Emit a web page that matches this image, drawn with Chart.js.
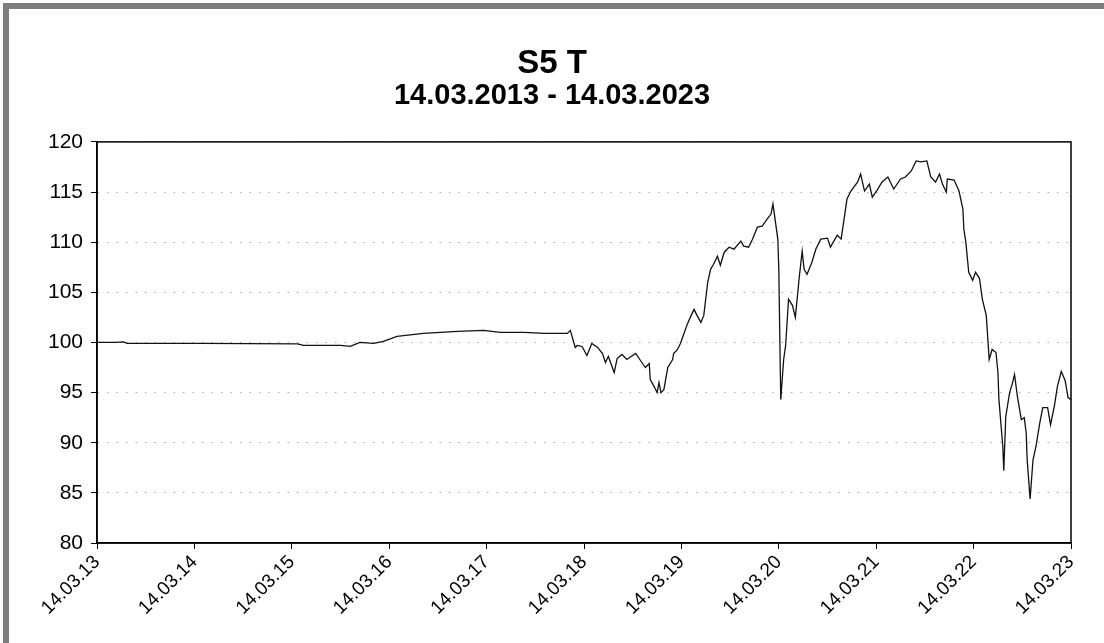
<!DOCTYPE html>
<html>
<head>
<meta charset="utf-8">
<title>S5 T</title>
<script src="https://cdn.jsdelivr.net/npm/chart.js@4.4.0/dist/chart.umd.min.js"></script>
<style>
    body { margin: 0; background: #fff; }
    #wrap { position: relative; width: 1104px; height: 643px; }
    #frame { position: absolute; left: 3px; top: 3px; right: 0; bottom: 0;
             border-left: 6px solid #7d7d7d; border-top: 6px solid #7d7d7d; pointer-events: none; }
</style>
</head>
<body>
<div id="wrap">
    <canvas id="chart" width="1104" height="643"></canvas>
    <div id="frame"></div>
</div>
<script>
// Chart data (x = years since 14.03.2013)
const chartTitle = "S5 T";
const chartPeriod = "14.03.2013 - 14.03.2023";
const startYear = 13;
const yearTicks = [0, 1, 2, 3, 4, 5, 6, 7, 8, 9, 10];

const years = [
    0.00, 0.19, 0.27, 0.31, 1.06, 2.06, 2.12, 2.50, 2.60, 2.70,
    2.84, 2.94, 3.08, 3.35, 3.70, 3.97, 4.14, 4.38, 4.60, 4.83,
    4.86, 4.91, 4.93, 4.98, 5.03, 5.08, 5.14, 5.19, 5.22, 5.25,
    5.31, 5.34, 5.39, 5.44, 5.53, 5.58, 5.63, 5.67, 5.68, 5.72,
    5.75, 5.77, 5.79, 5.82, 5.86, 5.91, 5.92, 5.96, 5.99, 6.03,
    6.06, 6.10, 6.13, 6.16, 6.20, 6.23, 6.27, 6.30, 6.33, 6.37,
    6.40, 6.44, 6.49, 6.54, 6.61, 6.64, 6.69, 6.73, 6.78, 6.83,
    6.88, 6.92, 6.94, 6.99, 7.00, 7.02, 7.05, 7.07, 7.10, 7.14,
    7.17, 7.21, 7.24, 7.26, 7.29, 7.34, 7.38, 7.43, 7.50, 7.53,
    7.60, 7.64, 7.67, 7.70, 7.74, 7.81, 7.84, 7.88, 7.93, 7.96,
    8.01, 8.06, 8.12, 8.18, 8.25, 8.30, 8.36, 8.41, 8.46, 8.52,
    8.56, 8.61, 8.65, 8.68, 8.72, 8.73, 8.80, 8.85, 8.89, 8.90,
    8.92, 8.95, 8.99, 9.02, 9.06, 9.09, 9.13, 9.16, 9.19, 9.23,
    9.25, 9.26, 9.30, 9.31, 9.33, 9.37, 9.40, 9.42, 9.45, 9.49,
    9.52, 9.54, 9.55, 9.58, 9.61, 9.64, 9.68, 9.71, 9.76, 9.79,
    9.83, 9.86, 9.90, 9.94, 9.97, 10.00
];

const values = [
    100.0, 100.0, 100.05, 99.9, 99.9, 99.85, 99.7, 99.7, 99.6, 100.0,
    99.9, 100.1, 100.6, 100.9, 101.1, 101.2, 101.0, 101.0, 100.9, 100.9,
    101.2, 99.5, 99.7, 99.6, 98.7, 99.9, 99.5, 98.9, 98.0, 98.6,
    97.0, 98.4, 98.8, 98.3, 98.9, 98.2, 97.5, 97.9, 96.3, 95.6,
    95.0, 96.0, 95.0, 95.3, 97.5, 98.3, 98.9, 99.3, 99.9, 101.0,
    101.8, 102.7, 103.3, 102.7, 102.0, 102.7, 106.0, 107.3, 107.8, 108.6,
    107.7, 109.0, 109.5, 109.3, 110.1, 109.6, 109.5, 110.3, 111.5, 111.6,
    112.3, 112.8, 113.8, 110.3, 107.3, 94.3, 98.3, 99.7, 104.3, 103.7,
    102.5, 106.5, 109.1, 107.3, 106.8, 108.0, 109.3, 110.3, 110.4, 109.5,
    110.7, 110.3, 112.3, 114.3, 115.1, 116.0, 116.8, 115.1, 115.8, 114.5,
    115.2, 116.0, 116.5, 115.3, 116.3, 116.5, 117.1, 118.1, 118.0, 118.1,
    116.5, 116.0, 116.8, 115.8, 115.0, 116.3, 116.2, 115.1, 113.3, 111.3,
    110.0, 107.0, 106.2, 107.0, 106.4, 104.3, 102.7, 98.3, 99.3, 99.0,
    97.0, 94.3, 89.6, 87.2, 92.6, 95.0, 96.0, 96.8, 94.6, 92.3,
    92.5, 91.0, 88.3, 84.4, 88.3, 89.6, 92.0, 93.5, 93.5, 91.8,
    93.7, 95.6, 97.1, 96.2, 94.5, 94.3
];

const yMin = 80;
const yMax = 120;
const yStep = 5;

// Box around the plot area (top and right sides too)
const plotBox = {
    id: 'plotBox',
    afterDraw(chart) {
        let a = chart.chartArea;
        let ctx = chart.ctx;
        ctx.save();
        ctx.strokeStyle = '#000';
        ctx.lineWidth = 1.5;
        ctx.strokeRect(a.left, a.top, a.right - a.left, a.bottom - a.top);
        ctx.restore();
    }
};

let points = years.map((x, i) => ({ x: x, y: values[i] }));
let fontFamily = 'Liberation Sans, Arial, sans-serif';

let ctx = document.getElementById('chart').getContext('2d');
new Chart(ctx, {
    type: 'line',
    data: {
        datasets: [{
            data: points,
            borderColor: '#111',
            borderWidth: 1.3,
            pointRadius: 0,
            tension: 0,
            fill: false
        }]
    },
    options: {
        responsive: false,
        animation: false,
        layout: { padding: 0 },
        plugins: {
            legend: { display: false },
            tooltip: { enabled: false },
            title: {
                display: true,
                text: chartTitle,
                color: '#000',
                font: { family: fontFamily, size: 33, weight: 'bold', lineHeight: 1.0 },
                padding: { top: 47, bottom: 0 }
            },
            subtitle: {
                display: true,
                text: chartPeriod,
                color: '#000',
                font: { family: fontFamily, size: 29, weight: 'bold', lineHeight: 1.1 },
                padding: { top: 0, bottom: 30 }
            }
        },
        scales: {
            x: {
                type: 'linear',
                min: 0,
                max: 10,
                afterFit: scale => { scale.height = 100; },
                afterBuildTicks: scale => { scale.ticks = yearTicks.map(v => ({ value: v })); },
                ticks: {
                    autoSkip: false,
                    maxRotation: 45,
                    minRotation: 45,
                    color: '#000',
                    padding: 2,
                    font: { family: fontFamily, size: 19 },
                    callback: v => '14.03.' + String(startYear + v).padStart(2, '0')
                },
                grid: {
                    drawOnChartArea: false,
                    drawTicks: true,
                    tickLength: 6,
                    tickColor: '#000',
                    tickWidth: 1
                },
                border: { color: '#000', width: 1.5 }
            },
            y: {
                min: yMin,
                max: yMax,
                afterFit: scale => { scale.width = 97; },
                ticks: {
                    stepSize: yStep,
                    color: '#000',
                    padding: 8,
                    font: { family: fontFamily, size: 21 }
                },
                grid: {
                    color: '#ababab',
                    lineWidth: 1,
                    tickLength: 6,
                    tickColor: '#000',
                    tickBorderDash: [],
                    tickWidth: 1
                },
                border: { color: '#000', width: 1.5, dash: [1.5, 8] }
            },
            // empty spacer on the right so the plot ends where the reference does
            spacer: {
                type: 'linear',
                position: 'right',
                afterFit: scale => { scale.width = 33; },
                ticks: { display: false },
                grid: { display: false },
                border: { display: false }
            }
        }
    },
    plugins: [plotBox]
});
</script>
</body>
</html>
